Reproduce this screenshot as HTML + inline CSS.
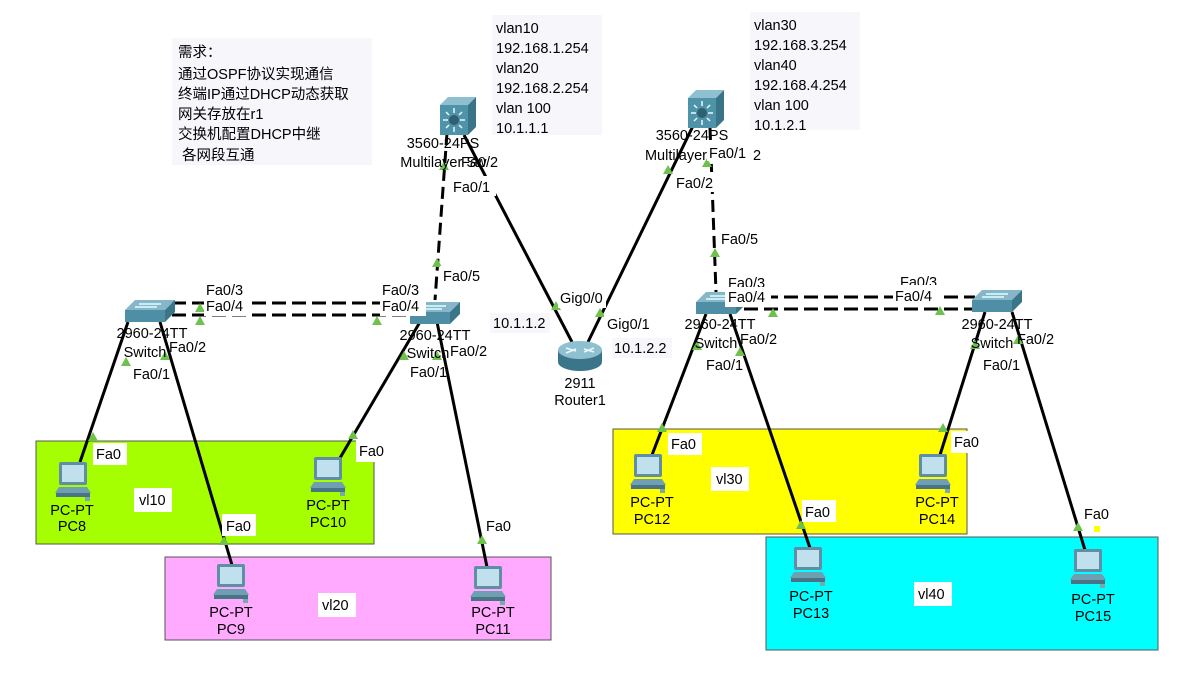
<!DOCTYPE html>
<html><head><meta charset="utf-8"><style>
html,body{margin:0;padding:0;background:#fff;}
svg{display:block;font-family:"Liberation Sans","Noto Sans CJK SC",sans-serif;}
.t{font-size:14.5px;fill:#000;}
.tb{fill:#fff;}
</style></head><body>
<svg width="1179" height="695" viewBox="0 0 1179 695" xmlns="http://www.w3.org/2000/svg">
<defs>
<g id="pc">
 <rect x="4" y="0" width="28" height="23" rx="2" fill="#5f8fa3"/>
 <rect x="7" y="3" width="22" height="17" fill="#bfe0ec"/>
 <polygon points="0,31 36,31 32,25 4,25" fill="#6e9fb3"/>
 <rect x="1" y="31" width="34" height="4" fill="#4a7486"/>
 <rect x="30" y="35" width="5" height="4" fill="#7aa"/>
</g>
<g id="sw">
 <polygon points="0,10 10,0 50,0 40,10" fill="#86b6c8"/>
 <rect x="0" y="10" width="40" height="12" fill="#4e8fa5"/>
 <polygon points="40,10 50,0 50,12 40,22" fill="#3b7589"/>
 <line x1="14" y1="4" x2="36" y2="4" stroke="#dff" stroke-width="1.5"/>
 <line x1="10" y1="7" x2="32" y2="7" stroke="#dff" stroke-width="1.5"/>
</g>
<g id="mls">
 <polygon points="0,8 8,0 36,0 28,8" fill="#8ec0d0"/>
 <rect x="0" y="8" width="28" height="30" fill="#4f93a8"/>
 <polygon points="28,8 36,0 36,30 28,38" fill="#3a7488"/>
 <circle cx="14" cy="23" r="5" fill="#2f5f70"/>
 <g stroke="#e8f8ff" stroke-width="1.5"><line x1="14" y1="11" x2="14" y2="16"/><line x1="14" y1="30" x2="14" y2="35"/><line x1="3" y1="23" x2="8" y2="23"/><line x1="20" y1="23" x2="25" y2="23"/><line x1="6" y1="15" x2="9" y2="18"/><line x1="19" y1="28" x2="22" y2="31"/><line x1="22" y1="15" x2="19" y2="18"/><line x1="6" y1="31" x2="9" y2="28"/></g>
</g>
<polygon id="tri" points="-5,4 5,4 0,-5" fill="#6cc24a"/>
</defs>

<rect x="36" y="441" width="338" height="103" fill="#a6ff00" stroke="#555"/>
<rect x="165" y="557" width="386" height="83" fill="#ffaaff" stroke="#555"/>
<rect x="613" y="429" width="354" height="105" fill="#ffff00" stroke="#555"/>
<rect x="766" y="537" width="392" height="113" fill="#00ffff" stroke="#555"/>

<rect x="172" y="38" width="200" height="127" fill="#f6f6fb"/>
<g class="t" font-size="15">
<text x="178" y="57">需求：</text>
<text x="178" y="79">通过OSPF协议实现通信</text>
<text x="178" y="99">终端IP通过DHCP动态获取</text>
<text x="178" y="119">网关存放在r1</text>
<text x="178" y="139">交换机配置DHCP中继</text>
<text x="182" y="160">各网段互通</text>
</g>
<rect x="492" y="15" width="110" height="120" fill="#f6f6fb"/>
<g class="t"><text x="496" y="33">vlan10</text><text x="496" y="53">192.168.1.254</text><text x="496" y="73">vlan20</text><text x="496" y="93">192.168.2.254</text><text x="496" y="113">vlan 100</text><text x="496" y="133">10.1.1.1</text></g>
<rect x="750" y="12" width="110" height="118" fill="#f6f6fb"/>
<g class="t"><text x="754" y="30">vlan30</text><text x="754" y="50">192.168.3.254</text><text x="754" y="70">vlan40</text><text x="754" y="90">192.168.4.254</text><text x="754" y="110">vlan 100</text><text x="754" y="130">10.1.2.1</text></g>

<g stroke="#000" stroke-width="3" fill="none">
<line x1="447" y1="133" x2="435" y2="300" stroke-dasharray="12,6"/>
<line x1="464" y1="135" x2="572" y2="342"/>
<line x1="693" y1="126" x2="588" y2="342"/>
<line x1="710" y1="128" x2="716" y2="292" stroke-dasharray="12,6"/>
<line x1="172" y1="303" x2="430" y2="303" stroke-dasharray="14,6"/>
<line x1="172" y1="315" x2="430" y2="315" stroke-dasharray="14,6"/>
<line x1="744" y1="297" x2="975" y2="297" stroke-dasharray="14,6"/>
<line x1="744" y1="309" x2="975" y2="309" stroke-dasharray="14,6"/>
<line x1="128" y1="322" x2="80" y2="462"/>
<line x1="160" y1="322" x2="232" y2="565"/>
<line x1="420" y1="322" x2="340" y2="458"/>
<line x1="437" y1="322" x2="487" y2="567"/>
<line x1="706" y1="314" x2="652" y2="455"/>
<line x1="730" y1="314" x2="810" y2="548"/>
<line x1="985" y1="312" x2="940" y2="455"/>
<line x1="1012" y1="312" x2="1085" y2="550"/>
</g>

<use href="#tri" x="444" y="166"/><use href="#tri" x="437" y="263"/>
<use href="#tri" x="556" y="306"/><use href="#tri" x="600" y="313"/>
<use href="#tri" x="668" y="170"/><use href="#tri" x="707" y="163"/>
<use href="#tri" x="715" y="253"/>
<use href="#tri" x="200" y="308"/><use href="#tri" x="200" y="321"/><use href="#tri" x="377" y="321"/>
<use href="#tri" x="773" y="313"/><use href="#tri" x="940" y="311"/>
<use href="#tri" x="126" y="362"/><use href="#tri" x="165" y="356"/>
<use href="#tri" x="404" y="356"/><use href="#tri" x="437" y="356"/>
<use href="#tri" x="93" y="437"/><use href="#tri" x="224" y="541"/>
<use href="#tri" x="353" y="435"/><use href="#tri" x="482" y="540"/>
<use href="#tri" x="697" y="346"/><use href="#tri" x="740" y="352"/>
<use href="#tri" x="662" y="428"/><use href="#tri" x="801" y="525"/>
<use href="#tri" x="975" y="345"/><use href="#tri" x="1018" y="340"/>
<use href="#tri" x="943" y="428"/><use href="#tri" x="1078" y="527"/>

<use href="#mls" x="440" y="97"/>
<use href="#mls" x="688" y="90"/>
<use href="#sw" x="125" y="300"/>
<use href="#sw" x="410" y="302"/>
<use href="#sw" x="696" y="292"/>
<use href="#sw" x="972" y="290"/>
<g>
 <ellipse cx="580" cy="362" rx="22" ry="9" fill="#3b7589"/>
 <rect x="558" y="350" width="44" height="12" fill="#3b7589"/>
 <ellipse cx="580" cy="350" rx="22" ry="9" fill="#8ec0d0"/>
 <g stroke="#e8f8ff" stroke-width="1.5"><line x1="566" y1="348" x2="576" y2="351"/><line x1="584" y1="349" x2="594" y2="352"/><line x1="566" y1="353" x2="576" y2="349"/><line x1="584" y1="352" x2="594" y2="348"/></g>
</g>
<use href="#pc" x="55" y="462"/>
<use href="#pc" x="213" y="564"/>
<use href="#pc" x="310" y="457"/>
<use href="#pc" x="470" y="566"/>
<use href="#pc" x="630" y="454"/>
<use href="#pc" x="790" y="547"/>
<use href="#pc" x="915" y="454"/>
<use href="#pc" x="1070" y="549"/>

<g class="t" text-anchor="middle">
<text x="443" y="148">3560-24PS</text><text x="445" y="167">Multilayer Swi</text>
<text x="692" y="140">3560-24PS</text><text x="676" y="160">Multilayer</text><text x="757" y="160">2</text>
<text x="580" y="388">2911</text><text x="580" y="405">Router1</text>
<text x="152" y="338">2960-24TT</text><text x="145" y="357">Switch</text>
<text x="435" y="340">2960-24TT</text><text x="428" y="358">Switch</text>
<text x="720" y="329">2960-24TT</text><text x="716" y="348">Switch</text>
<text x="997" y="329">2960-24TT</text><text x="992" y="348">Switch</text>
<text x="72" y="515">PC-PT</text><text x="72" y="531">PC8</text>
<text x="231" y="617">PC-PT</text><text x="231" y="634">PC9</text>
<text x="328" y="510">PC-PT</text><text x="328" y="527">PC10</text>
<text x="493" y="617">PC-PT</text><text x="493" y="634">PC11</text>
<text x="652" y="507">PC-PT</text><text x="652" y="524">PC12</text>
<text x="811" y="601">PC-PT</text><text x="811" y="618">PC13</text>
<text x="937" y="507">PC-PT</text><text x="937" y="524">PC14</text>
<text x="1093" y="604">PC-PT</text><text x="1093" y="621">PC15</text>
</g>

<g class="t">
<text x="206" y="295">Fa0/3</text><text x="382" y="295">Fa0/3</text>
<text x="728" y="288">Fa0/3</text><text x="900" y="287">Fa0/3</text>
<rect x="450" y="176" width="46" height="20" class="tb"/><text x="453" y="192">Fa0/1</text>
<rect x="487" y="152" width="20" height="18" class="tb"/><text x="461" y="167">Fa0/2</text>
<rect x="440" y="266" width="46" height="20" class="tb"/><text x="443" y="281">Fa0/5</text>
<rect x="558" y="288" width="48" height="20" class="tb"/><text x="560" y="303">Gig0/0</text>
<rect x="604" y="313" width="50" height="20" class="tb"/><text x="607" y="329">Gig0/1</text>
<rect x="490" y="313" width="60" height="20" fill="#f6f6fb"/><text x="493" y="328">10.1.1.2</text>
<rect x="612" y="338" width="60" height="20" fill="#f6f6fb"/><text x="614" y="353">10.1.2.2</text>
<rect x="673" y="172" width="46" height="20" class="tb"/><text x="676" y="188">Fa0/2</text>
<rect x="707" y="143" width="46" height="18" class="tb"/><text x="709" y="158">Fa0/1</text>
<rect x="719" y="229" width="46" height="20" class="tb"/><text x="721" y="244">Fa0/5</text>
<rect x="204" y="296" width="46" height="20" class="tb"/><text x="206" y="311">Fa0/4</text>
<rect x="380" y="296" width="46" height="20" class="tb"/><text x="382" y="311">Fa0/4</text>
<rect x="725" y="287" width="46" height="20" class="tb"/><text x="728" y="302">Fa0/4</text>
<rect x="893" y="285" width="46" height="20" class="tb"/><text x="895" y="301">Fa0/4</text>
<text x="169" y="352">Fa0/2</text><text x="133" y="379">Fa0/1</text>
<text x="450" y="356">Fa0/2</text><text x="410" y="377">Fa0/1</text>
<text x="740" y="344">Fa0/2</text><text x="706" y="370">Fa0/1</text>
<text x="1017" y="344">Fa0/2</text><text x="983" y="370">Fa0/1</text>
<rect x="93" y="443" width="34" height="22" class="tb"/><text x="96" y="459">Fa0</text>
<rect x="222" y="514" width="34" height="22" class="tb"/><text x="226" y="531">Fa0</text>
<rect x="356" y="440" width="34" height="22" class="tb"/><text x="359" y="456">Fa0</text>
<rect x="483" y="514" width="34" height="22" class="tb"/><text x="486" y="531">Fa0</text>
<rect x="668" y="433" width="34" height="22" class="tb"/><text x="671" y="449">Fa0</text>
<rect x="802" y="500" width="34" height="22" class="tb"/><text x="805" y="517">Fa0</text>
<rect x="951" y="431" width="34" height="22" class="tb"/><text x="954" y="447">Fa0</text>
<rect x="1081" y="503" width="34" height="22" class="tb"/><text x="1084" y="519">Fa0</text>
<rect x="1094" y="526" width="6" height="6" fill="#ffff00"/>
<rect x="134" y="488" width="38" height="24" class="tb"/><text x="139" y="505">vl10</text>
<rect x="318" y="593" width="38" height="24" class="tb"/><text x="322" y="610">vl20</text>
<rect x="711" y="467" width="38" height="24" class="tb"/><text x="716" y="484">vl30</text>
<rect x="914" y="582" width="38" height="24" class="tb"/><text x="918" y="599">vl40</text>
</g>
</svg>
</body></html>
